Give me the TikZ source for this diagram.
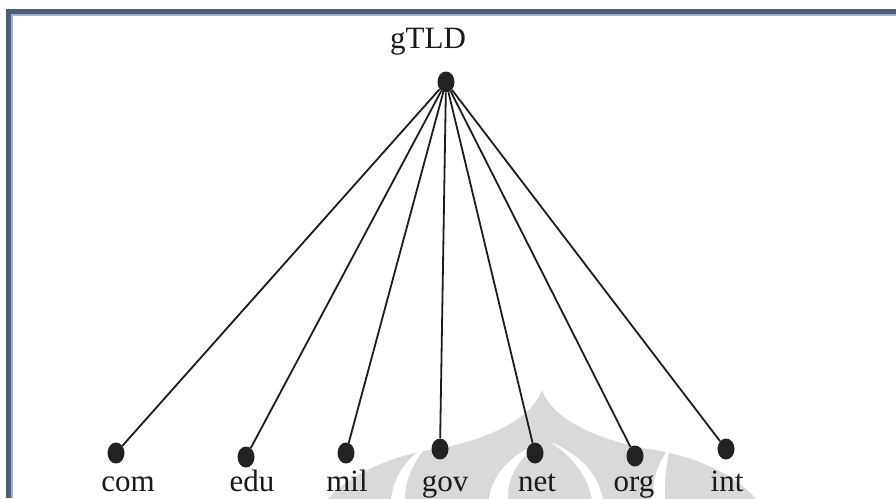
\documentclass[tikz,border=0pt]{standalone}
\usepackage{fontspec}
\setmainfont{Liberation Serif}
\usetikzlibrary{shapes.geometric}

\definecolor{framec}{HTML}{465E7A}
\definecolor{framelt}{HTML}{A3B1C2}
\definecolor{dotc}{HTML}{222222}
\definecolor{edgec}{HTML}{1C1C1C}
\definecolor{markc}{HTML}{D9D9D9}

\tikzset{
  dot/.style={ellipse, fill=dotc, draw=none, inner sep=0pt,
              minimum width=17pt, minimum height=21pt},
  lbl/.style={font=\fontsize{31}{36}\selectfont, text=black!90,
              inner sep=0pt, anchor=base},
  edge/.style={draw=edgec, line width=1.8pt}
}

\begin{document}
\begin{tikzpicture}[x=1pt, y=-1pt]
  \useasboundingbox (0,0) rectangle (896,498);
  \fill[white] (0,0) rectangle (896,498);

  % faint ornament behind the leaves
  \begin{scope}
    \clip (11,15) rectangle (896,498);
    \fill[markc] (328,499) .. controls (350,475) and (385,458) .. (430,450)
      .. controls (470,444) and (530,425) .. (542,390)
      .. controls (554,425) and (614,444) .. (655,450)
      .. controls (700,458) and (735,475) .. (756,499) -- cycle;
    \fill[white] (391,499) .. controls (394,476) and (405,460) .. (428,444)
      .. controls (414,462) and (405,478) .. (405,499) -- cycle;
    \fill[white] (489,499) .. controls (492,475) and (510,455) .. (541,442)
      .. controls (518,458) and (507,478) .. (508,499) -- cycle;
    \fill[white] (592,499) .. controls (588,478) and (575,458) .. (550,442)
      .. controls (582,455) and (598,475) .. (603,499) -- cycle;
    \fill[white] (652,499) .. controls (653,478) and (658,462) .. (670,447)
      .. controls (667,462) and (664,478) .. (665,499) -- cycle;
  \end{scope}

  % frame
  \fill[framelt] (11,14) rectangle (896,15.5);
  \fill[framelt] (11,14) rectangle (12.5,498);
  \fill[framec] (6,9) rectangle (896,14);
  \fill[framec] (6,9) rectangle (11,498);

  % root and leaves
  \node[lbl] (rootlbl) at (428,48) {gTLD};
  \node[dot] (root) at (446,82) {};

  \node[dot] (com) at (116,453) {};
  \node[dot] (edu) at (246,457) {};
  \node[dot] (mil) at (346,453) {};
  \node[dot] (gov) at (440,449) {};
  \node[dot] (net) at (535,453) {};
  \node[dot] (org) at (635,456) {};
  \node[dot] (int) at (726,449) {};

  \node[lbl] (comlbl) at (128,491) {com};
  \node[lbl] (edulbl) at (252,491) {edu};
  \node[lbl] (millbl) at (347,491) {mil};
  \node[lbl] (govlbl) at (445,491) {gov};
  \node[lbl] (netlbl) at (537,491) {net};
  \node[lbl] (orglbl) at (634,491) {org};
  \node[lbl] (intlbl) at (727,491) {int};

  \foreach \leaf in {com,edu,mil,gov,net,org,int}
    \draw[edge] (root) -- (\leaf);
\end{tikzpicture}
\end{document}
